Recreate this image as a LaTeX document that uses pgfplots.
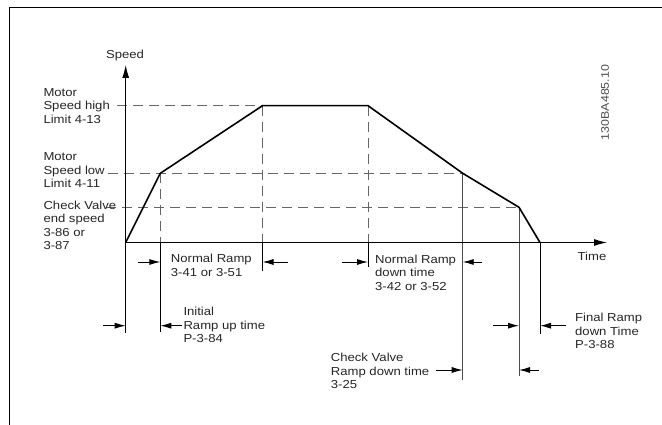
\documentclass[border=0pt]{standalone}
\usepackage{fontspec}
\setmainfont{Liberation Sans}[FakeStretch=1.13]
\usepackage{pgfplots}
\pgfplotsset{compat=1.18}
\usetikzlibrary{arrows.meta}
\begin{document}
\begin{tikzpicture}[
  lbl/.style={anchor=west,align=left,inner sep=0pt,text=black!85,font=\fontsize{11.6bp}{13.5bp}\selectfont},
  dim/.style={line width=0.9bp,-{Latex[length=11bp,width=6bp]}},
  dsh/.style={line width=0.9bp,color=black!60,dash pattern=on 10bp off 6bp},
]
\begin{axis}[
  width=662bp, height=425bp, scale only axis,
  xmin=-125.7, xmax=536.3, ymin=-182.5, ymax=242.5,
  hide axis, clip=false,
]
% frame (left and top edges)
\draw[line width=1.4bp] (axis cs:-116.4,-182.5) -- (axis cs:-116.4,235.2) -- (axis cs:536.3,235.2);
% level lines
\addplot[dsh] coordinates {(-9,136.8) (136.8,136.8)};
\addplot[dsh] coordinates {(-17.7,69.2) (337,69.2)};
\addplot[dsh] coordinates {(-19.7,35.2) (393.3,35.2)};
% dashed verticals above the time axis
\addplot[dsh] coordinates {(34.6,69.2) (34.6,0)};
\addplot[dsh] coordinates {(136.8,136.8) (136.8,0)};
\addplot[dsh] coordinates {(242.3,136.8) (242.3,0)};
% solid verticals
\draw[line width=0.9bp,black!70] (axis cs:337,69.2) -- (axis cs:337,-137.5);
\draw[line width=0.9bp,black!70] (axis cs:393.3,35.2) -- (axis cs:393.3,-133.5);
\draw[line width=0.9bp] (axis cs:34.6,0) -- (axis cs:34.6,-89.5);
\draw[line width=0.9bp] (axis cs:136.8,0) -- (axis cs:136.8,-28.5);
\draw[line width=0.9bp] (axis cs:242.3,0) -- (axis cs:242.3,-24.5);
\draw[line width=0.9bp] (axis cs:414.3,0) -- (axis cs:414.3,-91.5);
\draw[line width=0.9bp] (axis cs:0,0) -- (axis cs:0,-90.5);
% axes
\draw[line width=0.9bp,-{Latex[length=13bp,width=7bp]}] (axis cs:0,0) -- (axis cs:481.3,0);
\draw[line width=0.9bp,-{Latex[length=13bp,width=7bp]}] (axis cs:0,0) -- (axis cs:0,177.5);
% speed profile
\addplot[line width=1.6bp,black] coordinates {
  (0,0) (34.6,69.2) (136.8,136.8) (242.3,136.8) (337,69.2) (393.3,35.2) (414.3,0)};
% dimension arrows
\draw[dim] (axis cs:12,-19.5) -- (axis cs:34.6,-19.5);
\draw[dim] (axis cs:162.3,-19.5) -- (axis cs:136.8,-19.5);
\draw[dim] (axis cs:216.3,-19.5) -- (axis cs:242.3,-19.5);
\draw[dim] (axis cs:356,-19.5) -- (axis cs:337,-19.5);
\draw[dim] (axis cs:-22.7,-83.2) -- (axis cs:0,-83.2);
\draw[dim] (axis cs:56,-83.2) -- (axis cs:34.6,-83.2);
\draw[dim] (axis cs:310.3,-127.5) -- (axis cs:337,-127.5);
\draw[dim] (axis cs:413.3,-127.5) -- (axis cs:393.3,-127.5);
\draw[dim] (axis cs:367.3,-83.2) -- (axis cs:393.3,-83.2);
\draw[dim] (axis cs:440.3,-83.2) -- (axis cs:414.3,-83.2);
% labels
\node[lbl,anchor=center] at (axis cs:-0.7,186.5) {Speed};
\node[lbl,anchor=center] at (axis cs:466.3,-13.5) {Time};
\node[lbl] at (axis cs:-82.4,136.5) {Motor\\Speed high\\Limit 4-13};
\node[lbl] at (axis cs:-82.4,72) {Motor\\Speed low\\Limit 4-11};
\node[lbl] at (axis cs:-82.4,17) {Check Valve\\end speed\\3-86 or\\3-87};
\node[lbl] at (axis cs:45,-23) {Normal Ramp\\3-41 or 3-51};
\node[lbl] at (axis cs:249.3,-30.2) {Normal Ramp\\down time\\3-42 or 3-52};
\node[lbl] at (axis cs:57.6,-82.5) {Initial\\Ramp up time\\P-3-84};
\node[lbl] at (axis cs:205,-128.5) {Check Valve\\Ramp down time\\3-25};
\node[lbl] at (axis cs:449.3,-88.5) {Final Ramp\\down Time\\P-3-88};
\node[lbl,anchor=center,rotate=90,text=black!70,font=\fontsize{11bp}{13bp}\selectfont] at (axis cs:479.3,140) {130BA485.10};
\coordinate (SW) at (rel axis cs:0,0);
\coordinate (NE) at (rel axis cs:1,1);
\end{axis}
\pgfresetboundingbox
\path[use as bounding box] (SW) rectangle (NE);
\end{tikzpicture}
\end{document}
